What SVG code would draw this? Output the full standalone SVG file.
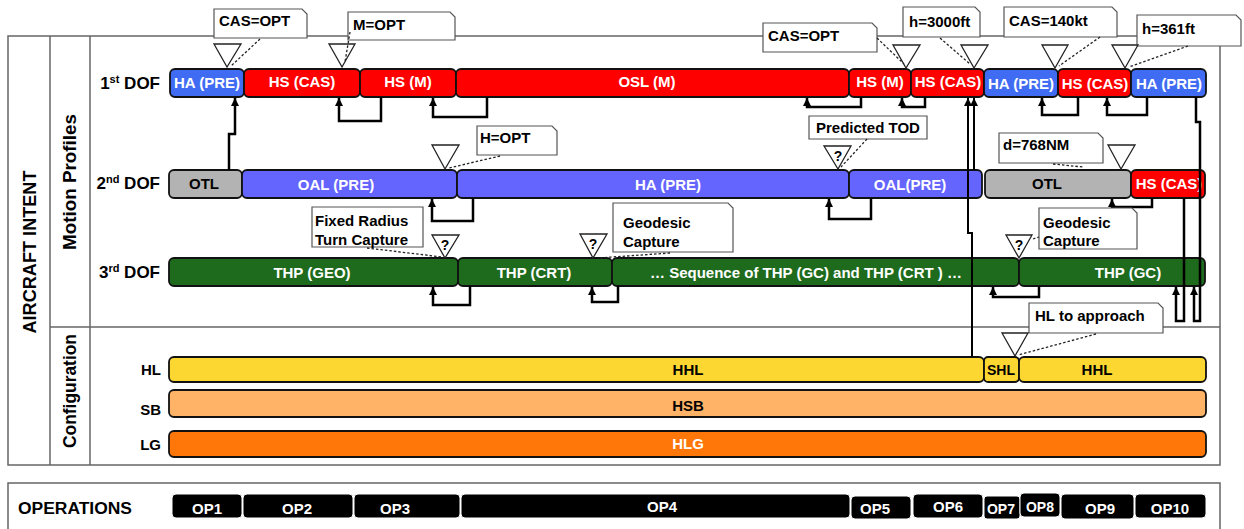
<svg xmlns="http://www.w3.org/2000/svg" width="1244" height="529" viewBox="0 0 1244 529">
<defs>
<style>
text{font-family:"Liberation Sans",Arial,sans-serif;font-weight:bold}
.frame{fill:none;stroke:#666;stroke-width:1.5}
.bar{stroke:#111;stroke-width:1.8}
.ha{fill:#3f6cf2}
.hs{fill:#ff0000}
.oal{fill:#6464ff}
.otl{fill:#b3b3b3}
.thp{fill:#1e6b1e}
.hl{fill:#fcd631}
.sb{fill:#ffb366}
.lg{fill:#ff7709}
.op{fill:#000;stroke:#fff;stroke-width:1}
.bt{font-size:15px;fill:#fff;text-anchor:middle}
.dk{fill:#000}
.lbl{font-size:17px;fill:#000;text-anchor:end}
.note{fill:#fff;stroke:#555;stroke-width:1.2}
.nt{font-size:15px;fill:#000}
.tri{fill:#fff;stroke:#222;stroke-width:1.3}
.q{font-size:14px;fill:#000;text-anchor:middle}
.dash{fill:none;stroke:#222;stroke-width:1.3;stroke-dasharray:2.5 2}
.link{fill:none;stroke:#000;stroke-width:2.5;marker-end:url(#ah)}
.thin{fill:none;stroke:#000;stroke-width:2;marker-end:url(#ah)}
.vt{font-size:18px;fill:#000;text-anchor:middle;font-weight:bold}
</style>
<marker id="ah" viewBox="0 0 10 10" refX="10" refY="5" markerWidth="8" markerHeight="8" orient="auto" markerUnits="userSpaceOnUse">
<path d="M0,0 L10,5 L0,10 z" fill="#000"/>
</marker>
</defs>
<rect width="1244" height="529" fill="#fff"/>

<!-- frames -->
<g id="frames">
<rect class="frame" x="8" y="36" width="1212" height="429"/>
<line class="frame" x1="50" y1="36" x2="50" y2="465"/>
<line class="frame" x1="90" y1="36" x2="90" y2="465"/>
<line class="frame" x1="50" y1="327" x2="1220" y2="327"/>
<rect class="frame" x="8" y="483" width="1212" height="60"/>
<text class="vt" font-weight="bold" transform="translate(36,252) rotate(-90)" textLength="163" lengthAdjust="spacingAndGlyphs">AIRCRAFT INTENT</text>
<text class="vt" font-weight="bold" transform="translate(76,182) rotate(-90)" textLength="136" lengthAdjust="spacingAndGlyphs">Motion Profiles</text>
<text class="vt" font-weight="bold" transform="translate(76,391) rotate(-90)" textLength="114" lengthAdjust="spacingAndGlyphs">Configuration</text>
</g>

<!-- row labels -->
<g id="row-labels">
<text class="lbl" x="160" y="89">1<tspan font-size="11" dy="-6">st</tspan><tspan dy="6"> DOF</tspan></text>
<text class="lbl" x="160" y="189">2<tspan font-size="11" dy="-6">nd</tspan><tspan dy="6"> DOF</tspan></text>
<text class="lbl" x="160" y="278">3<tspan font-size="11" dy="-6">rd</tspan><tspan dy="6"> DOF</tspan></text>
<text class="lbl" x="161" y="375" style="font-size:15px">HL</text>
<text class="lbl" x="161" y="415" style="font-size:15px">SB</text>
<text class="lbl" x="161" y="450" style="font-size:15px">LG</text>
<text x="18" y="514" style="font-size:16px" textLength="114" lengthAdjust="spacingAndGlyphs">OPERATIONS</text>
</g>

<!-- 1st DOF -->
<g id="dof1">
<rect class="bar ha" x="170" y="69" width="74" height="28" rx="5"/><text class="bt" x="207" y="88">HA (PRE)</text>
<rect class="bar hs" x="244" y="69" width="116" height="28" rx="5"/><text class="bt" x="302" y="87">HS (CAS)</text>
<rect class="bar hs" x="360" y="69" width="96" height="28" rx="5"/><text class="bt" x="408" y="87">HS (M)</text>
<rect class="bar hs" x="456" y="69" width="393" height="28" rx="5"/><text class="bt" x="647" y="87">OSL (M)</text>
<rect class="bar hs" x="849" y="69" width="62" height="28" rx="5"/><text class="bt" x="880" y="87">HS (M)</text>
<rect class="bar hs" x="911" y="69" width="73" height="28" rx="5"/><text class="bt" x="948" y="87">HS (CAS)</text>
<rect class="bar ha" x="984" y="69" width="74" height="28" rx="5"/><text class="bt" x="1021" y="89">HA (PRE)</text>
<rect class="bar hs" x="1058" y="69" width="73" height="28" rx="5"/><text class="bt" x="1095" y="89">HS (CAS)</text>
<rect class="bar ha" x="1131" y="69" width="75" height="28" rx="5"/><text class="bt" x="1169" y="89">HA (PRE)</text>
</g>

<!-- 2nd DOF -->
<g id="dof2">
<rect class="bar otl" x="169" y="170" width="73" height="28" rx="5"/><text class="bt dk" x="204" y="189">OTL</text>
<rect class="bar oal" x="242" y="170" width="215" height="28" rx="5"/><text class="bt" x="336" y="190">OAL (PRE)</text>
<rect class="bar oal" x="457" y="170" width="392" height="28" rx="5"/><text class="bt" x="668" y="190">HA (PRE)</text>
<rect class="bar oal" x="849" y="170" width="133" height="28" rx="5"/><text class="bt" x="910" y="190">OAL(PRE)</text>
<rect class="bar otl" x="985" y="170" width="146" height="28" rx="5"/><text class="bt dk" x="1047" y="189">OTL</text>
<rect class="bar hs" x="1131" y="170" width="74" height="28" rx="5"/><text class="bt" x="1169" y="189">HS (CAS)</text>
</g>

<!-- 3rd DOF -->
<g id="dof3">
<rect class="bar thp" x="169" y="258" width="289" height="28" rx="5"/><text class="bt" x="312" y="278">THP (GEO)</text>
<rect class="bar thp" x="458" y="258" width="154" height="28" rx="5"/><text class="bt" x="534" y="278">THP (CRT)</text>
<rect class="bar thp" x="612" y="258" width="407" height="28" rx="5"/><text class="bt" x="806" y="278">… Sequence of THP (GC) and THP (CRT ) …</text>
<rect class="bar thp" x="1019" y="258" width="186" height="28" rx="5"/><text class="bt" x="1128" y="278">THP (GC)</text>
</g>

<!-- configuration -->
<g id="config">
<rect class="bar hl" x="169" y="357" width="815" height="25" rx="5"/><text class="bt dk" x="688" y="375">HHL</text>
<rect class="bar hl" x="984" y="357" width="35" height="25" rx="4"/><text class="bt dk" x="1001" y="375" style="font-size:14px">SHL</text>
<rect class="bar hl" x="1019" y="357" width="187" height="25" rx="5"/><text class="bt dk" x="1097" y="375">HHL</text>
<rect class="bar sb" x="169" y="390" width="1037" height="27" rx="5"/><text class="bt dk" x="688" y="411">HSB</text>
<rect class="bar lg" x="169" y="431" width="1037" height="26" rx="5"/><text class="bt" x="688" y="449">HLG</text>
</g>

<!-- operations -->
<g id="operations">
<rect class="op" x="172" y="494" width="70" height="24" rx="4"/><text class="bt" x="207" y="514">OP1</text>
<rect class="op" x="243" y="494" width="110" height="24" rx="4"/><text class="bt" x="297" y="514">OP2</text>
<rect class="op" x="354" y="494" width="106" height="24" rx="4"/><text class="bt" x="395" y="514">OP3</text>
<rect class="op" x="461" y="494" width="389" height="24" rx="4"/><text class="bt" x="662" y="512">OP4</text>
<rect class="op" x="851" y="496" width="60" height="23" rx="4"/><text class="bt" x="875" y="514">OP5</text>
<rect class="op" x="913" y="494" width="70" height="24" rx="4"/><text class="bt" x="948" y="512">OP6</text>
<rect class="op" x="984" y="496" width="36" height="23" rx="3"/><text class="bt" x="1001" y="514" style="font-size:14px">OP7</text>
<rect class="op" x="1020" y="493" width="40" height="24" rx="4"/><text class="bt" x="1040" y="512" style="font-size:14px">OP8</text>
<rect class="op" x="1061" y="494" width="73" height="25" rx="4"/><text class="bt" x="1100" y="514">OP9</text>
<rect class="op" x="1135" y="494" width="71" height="24" rx="4"/><text class="bt" x="1170" y="514">OP10</text>
</g>

<!-- connectors -->
<g id="connectors">
<path class="link" d="M229,170 V134 H235 V98"/>
<path class="link" d="M381,97 V121 H339 V98"/>
<path class="link" d="M487,97 V117 H433 V98"/>
<path class="link" d="M861,97 V107 H807 V98"/>
<path class="link" d="M925,97 V107 H902 V98"/>
<path class="thin" d="M972,357 V233 H968 V98"/>
<path class="thin" d="M974,170 V98"/>
<path class="link" d="M1078,97 V115 H1042 V98"/>
<path class="link" d="M1147,97 V115 H1107 V98"/>
<path class="link" d="M1184,198 V321 H1176 V287"/>
<path class="link" d="M1196,97 V122 H1200 V321 H1194 V287"/>
<path class="link" d="M473,198 V221 H432 V199"/>
<path class="link" d="M871,198 V219 H829 V199"/>
<path class="link" d="M1152,198 V207 H1112 V199"/>
<path class="link" d="M470,286 V305 H433 V287"/>
<path class="link" d="M618,286 V302 H592 V287"/>
<path class="link" d="M1039,286 V297 H993 V287"/>
</g>

<!-- events: callout notes with trigger triangles -->
<g id="ev-cas-opt-1">
<path class="note" d="M214,9 H302 L307,14 V38 H214 Z"/><text class="nt" x="219" y="26">CAS=OPT</text>
<path class="tri" d="M214,44 H241 L227,67 Z"/>
<path class="dash" d="M260,39 L231,66"/>
</g>
<g id="ev-m-opt">
<path class="note" d="M348,12 H450 L455,17 V40 H348 Z"/><text class="nt" x="353" y="30">M=OPT</text>
<path class="tri" d="M329,44 H355 L342,67 Z"/>
<path class="dash" d="M350,32 L345,62"/>
</g>
<g id="ev-cas-opt-2">
<path class="note" d="M763,23 H872 L877,28 V52 H763 Z"/><text class="nt" x="768" y="41">CAS=OPT</text>
<path class="tri" d="M893,45 H920 L906,68 Z"/>
<path class="dash" d="M877,38 L904,64"/>
</g>
<g id="ev-h-3000">
<path class="note" d="M903,7 H975 L980,12 V37 H903 Z"/><text class="nt" x="909" y="27">h=3000ft</text>
<path class="tri" d="M961,45 H988 L974,68 Z"/>
<path class="dash" d="M940,38 L970,64"/>
</g>
<g id="ev-cas-140">
<path class="note" d="M1004,7 H1112 L1117,12 V37 H1004 Z"/><text class="nt" x="1009" y="26">CAS=140kt</text>
<path class="tri" d="M1042,45 H1068 L1055,68 Z"/>
<path class="dash" d="M1100,37 L1059,66"/>
</g>
<g id="ev-h-361">
<path class="note" d="M1137,15 H1236 L1241,20 V46 H1137 Z"/><text class="nt" x="1142" y="34">h=361ft</text>
<path class="tri" d="M1112,45 H1138 L1125,68 Z"/>
<path class="dash" d="M1188,46 L1129,67"/>
</g>
<g id="ev-h-opt">
<path class="note" d="M477,126 H552 L557,131 V155 H477 Z"/><text class="nt" x="480" y="143">H=OPT</text>
<path class="tri" d="M432,145 H459 L445,169 Z"/>
<path class="dash" d="M500,156 L449,168"/>
</g>
<g id="ev-tod">
<path class="note" d="M809,116 H927 V139 H809 Z"/><text class="nt" x="816" y="133">Predicted TOD</text>
<path class="tri" d="M824,146 H851 L838,169 Z"/><text class="q" x="838" y="161">?</text>
<path class="dash" d="M867,139 L841,167"/>
</g>
<g id="ev-d-768">
<path class="note" d="M999,133 H1098 L1103,138 V163 H999 Z"/><text class="nt" x="1003" y="150">d=768NM</text>
<path class="tri" d="M1108,145 H1135 L1121,169 Z"/>
<path class="dash" d="M1053,164 L1083,167"/>
</g>
<g id="ev-turn-capture">
<path class="note" d="M312,207 H423 V247 H312 Z"/><text class="nt" x="315" y="226">Fixed Radius</text><text class="nt" x="315" y="245">Turn Capture</text>
<path class="tri" d="M432,235 H459 L445,258 Z"/><text class="q" x="445" y="250">?</text>
<path class="dash" d="M367,248 L442,257"/>
</g>
<g id="ev-geodesic-1">
<path class="note" d="M613,203 H728 L733,208 V252 H613 Z"/><text class="nt" x="623" y="228">Geodesic</text><text class="nt" x="623" y="247">Capture</text>
<path class="tri" d="M580,234 H607 L593,258 Z"/><text class="q" x="593" y="249">?</text>
<path class="dash" d="M670,253 L598,258"/>
</g>
<g id="ev-geodesic-2">
<path class="note" d="M1039,208 H1132 L1137,213 V249 H1039 Z"/><text class="nt" x="1043" y="228">Geodesic</text><text class="nt" x="1043" y="246">Capture</text>
<path class="tri" d="M1006,235 H1032 L1019,258 Z"/><text class="q" x="1019" y="250">?</text>
<path class="dash" d="M1033,239 L1039,237"/>
</g>
<g id="ev-hl-approach">
<path class="note" d="M1029,303 H1158 L1163,308 V333 H1029 Z"/><text class="nt" x="1035" y="321">HL to approach</text>
<path class="tri" d="M1002,333 H1028 L1015,356 Z"/>
<path class="dash" d="M1096,334 L1018,355"/>
</g>
</svg>
